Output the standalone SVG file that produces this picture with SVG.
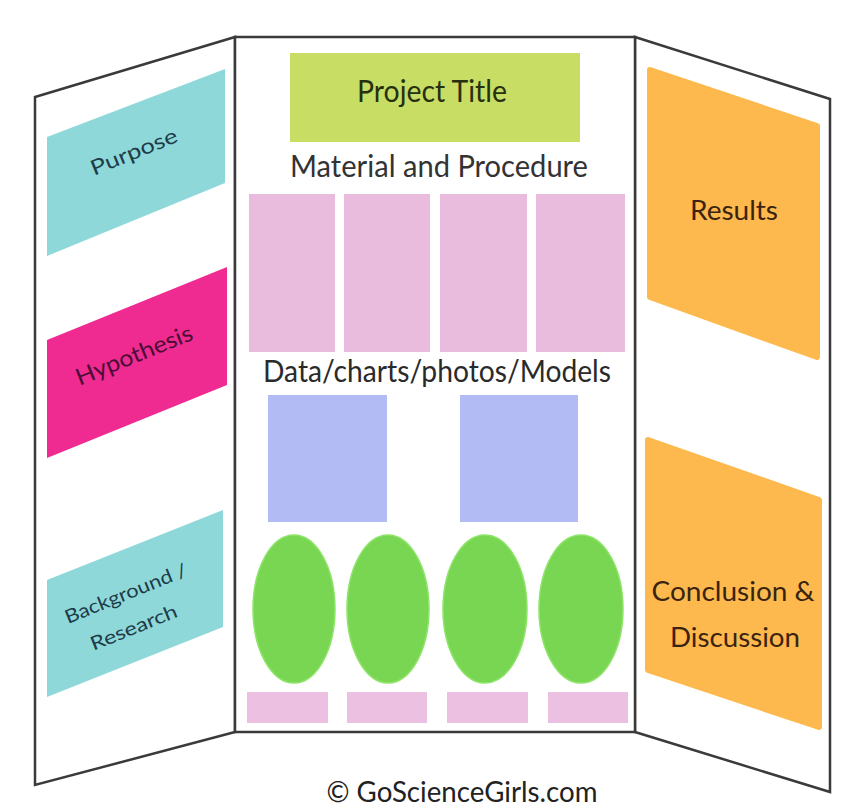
<svg xmlns="http://www.w3.org/2000/svg" width="846" height="809" viewBox="0 0 846 809">
  <style>
    .board { fill: #ffffff; stroke: #3a3a3a; stroke-width: 2.5; stroke-linejoin: miter; }
    .lbl { font-family: Lato, "Open Sans", "Liberation Sans", sans-serif; text-anchor: middle; }
    .teal { fill: #8fd8da; }
    .magenta { fill: #ef2b91; }
    .orange { fill: #fdb94d; stroke: #fdb94d; stroke-width: 6; stroke-linejoin: round; }
    .lime { fill: #c7dd64; }
    .pink { fill: #e9bcdd; }
    .pinklight { fill: #ecc0e0; }
    .blue { fill: #b3bbf4; }
    .green { fill: #78d653; stroke: #8ee468; stroke-width: 1.5; }
  </style>

  <rect width="846" height="809" fill="#ffffff"/>

  <!-- tri-fold board -->
  <g id="board">
    <polygon class="board" points="35,97 235,37 235,732 35,785"/>
    <polygon class="board" points="635,37 830,99 830,792 635,732"/>
    <rect class="board" x="235" y="37" width="400" height="695"/>
  </g>

  <!-- left wing -->
  <g id="purpose">
    <polygon class="teal" points="47,137 225,69 225,183 47,256"/>
    <text class="lbl" x="134" y="159" font-size="21" fill="#1d3c48" textLength="92" lengthAdjust="spacingAndGlyphs" transform="rotate(-22 134 152)">Purpose</text>
  </g>
  <g id="hypothesis">
    <polygon class="magenta" points="47,340 227,267 227,385 47,458"/>
    <text class="lbl" x="134" y="363" font-size="23" fill="#4a0b35" textLength="124" lengthAdjust="spacingAndGlyphs" transform="rotate(-22 134 355)">Hypothesis</text>
  </g>
  <g id="background">
    <polygon class="teal" points="47,580 223,510 223,627 47,697"/>
    <text class="lbl" x="126" y="600" font-size="19" fill="#1d3c48" textLength="130" lengthAdjust="spacingAndGlyphs" transform="rotate(-22 126 594)">Background /</text>
    <text class="lbl" x="134" y="634" font-size="19" fill="#1d3c48" textLength="92" lengthAdjust="spacingAndGlyphs" transform="rotate(-22 134 628)">Research</text>
  </g>

  <!-- centre panel -->
  <g id="project-title">
    <rect class="lime" x="290" y="53" width="290" height="89"/>
    <text class="lbl" x="432" y="102" font-size="30" fill="#263010" textLength="150" lengthAdjust="spacingAndGlyphs">Project Title</text>
  </g>
  <g id="material-procedure">
    <text class="lbl" x="439" y="177" font-size="30" fill="#333333" textLength="298" lengthAdjust="spacingAndGlyphs">Material and Procedure</text>
    <rect class="pink" x="249" y="194" width="86" height="158"/>
    <rect class="pink" x="344" y="194" width="86" height="158"/>
    <rect class="pink" x="440" y="194" width="87" height="158"/>
    <rect class="pink" x="536" y="194" width="89" height="158"/>
  </g>
  <g id="data-charts">
    <text class="lbl" x="437" y="382" font-size="30" fill="#2a2a2a" textLength="348" lengthAdjust="spacingAndGlyphs">Data/charts/photos/Models</text>
    <rect class="blue" x="268" y="395" width="119" height="127"/>
    <rect class="blue" x="460" y="395" width="118" height="127"/>
  </g>
  <g id="models">
    <ellipse class="green" cx="294" cy="609" rx="41" ry="74"/>
    <ellipse class="green" cx="388" cy="609" rx="41" ry="74"/>
    <ellipse class="green" cx="485" cy="609" rx="42" ry="74"/>
    <ellipse class="green" cx="581" cy="609" rx="42" ry="74"/>
  </g>
  <g id="captions">
    <rect class="pinklight" x="247" y="692" width="81" height="31"/>
    <rect class="pinklight" x="347" y="692" width="80" height="31"/>
    <rect class="pinklight" x="447" y="692" width="81" height="31"/>
    <rect class="pinklight" x="548" y="692" width="80" height="31"/>
  </g>

  <!-- right wing -->
  <g id="results">
    <polygon class="orange" points="650,70 817,126 817,357 650,297"/>
    <text class="lbl" x="734" y="220" font-size="27" fill="#3a2410" textLength="88" lengthAdjust="spacingAndGlyphs">Results</text>
  </g>
  <g id="conclusion">
    <polygon class="orange" points="648,440 819,500 819,727 648,670"/>
    <text class="lbl" x="733" y="601" font-size="27" fill="#3a2410" textLength="163" lengthAdjust="spacingAndGlyphs">Conclusion &amp;</text>
    <text class="lbl" x="735" y="647" font-size="27" fill="#3a2410" textLength="130" lengthAdjust="spacingAndGlyphs">Discussion</text>
  </g>

  <g id="credit">
    <text class="lbl" x="462" y="802" font-size="28" fill="#222222" textLength="271" lengthAdjust="spacingAndGlyphs">© GoScienceGirls.com</text>
  </g>
</svg>
